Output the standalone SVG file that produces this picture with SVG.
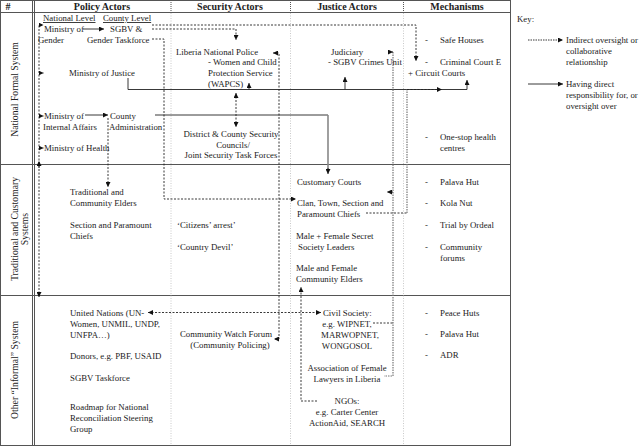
<svg xmlns="http://www.w3.org/2000/svg" width="640" height="447" viewBox="0 0 640 447">
<style>
text{font-family:"Liberation Serif","Times New Roman",serif;font-size:8.8px;fill:#222}
.h{font-weight:bold;font-size:10px;text-anchor:middle}
.m{text-anchor:middle}
.rl{font-size:9.7px;text-anchor:middle}
.u{text-decoration:underline}
.grid{stroke:#555;stroke-width:1;fill:none}
.hd{stroke:#555;stroke-width:1;stroke-dasharray:1,1;fill:none}
.dot{stroke:#bbb;stroke-width:0.8;stroke-dasharray:1,1.5;fill:none}
.s{stroke:#222;stroke-width:0.9;fill:none}
.d{stroke:#222;stroke-width:0.9;stroke-dasharray:2,1.5;fill:none}
.g{stroke:#777;stroke-width:1.2;stroke-dasharray:1.5,1;fill:none}
.sg{stroke:#888;stroke-width:1.6;fill:none}
.a{marker-end:url(#ah)}
.b{marker-start:url(#ah);marker-end:url(#ah)}
</style>
<defs>
<marker id="ah" viewBox="0 0 10 10" refX="10" refY="5" markerWidth="5" markerHeight="5" markerUnits="userSpaceOnUse" orient="auto-start-reverse"><path d="M0,0L10,5L0,10z" fill="#111"/></marker>
</defs>
<rect width="640" height="447" fill="#fff"/>

<g id="table">
<rect class="grid" x="0.5" y="0.5" width="510" height="445"/>
<line class="grid" x1="0" y1="12.5" x2="510.5" y2="12.5"/>
<line class="grid" x1="0" y1="164.5" x2="510.5" y2="164.5"/>
<line class="grid" x1="0" y1="295.5" x2="510.5" y2="295.5"/>
<line class="grid" x1="32.5" y1="0" x2="32.5" y2="445.5"/>
<line class="grid" x1="34.5" y1="0" x2="34.5" y2="445.5"/>
<line class="hd" x1="171" y1="0" x2="171" y2="12"/>
<line class="hd" x1="290.5" y1="0" x2="290.5" y2="12"/>
<line class="hd" x1="403.5" y1="0" x2="403.5" y2="12"/>
<line class="dot" x1="171" y1="13" x2="171" y2="445"/>
<line class="dot" x1="290.5" y1="13" x2="290.5" y2="445"/>
<line class="dot" x1="403.5" y1="13" x2="403.5" y2="445"/>
<text class="h" x="8" y="10" fill="#444">#</text>
<text class="h" x="102" y="10">Policy Actors</text>
<text class="h" x="230" y="10">Security Actors</text>
<text class="h" x="347" y="10">Justice Actors</text>
<text class="h" x="457" y="10">Mechanisms</text>
<text class="rl" transform="translate(17.5,89.5) rotate(-90)">National Formal System</text>
<text class="rl" transform="translate(17.5,229) rotate(-90)">Traditional and Customary</text>
<text class="rl" transform="translate(28,229) rotate(-90)">Systems</text>
<text class="rl" transform="translate(17.5,370) rotate(-90)">Other “Informal” System</text>
<text class="u" x="43" y="21">National Level</text>
<text class="u" x="103" y="21">County Level</text>
</g>

<g id="connectors">
<path class="d b" d="M39,297 V25 H43.5"/>
<path class="d a" d="M39,73 H43.5"/>
<path class="d a" d="M39,116 H43.5"/>
<path class="d a" d="M39,148 H43.5"/>
<path class="d a" d="M39,168 V161"/>
<path class="s a" d="M83,29 H104"/>
<path class="d a" d="M152,25 H416 V61"/>
<path class="d a" d="M152,29 H236 V40"/>
<path class="d a" d="M152,39 H164 V199 H296"/>
<path class="s a" d="M128,78 V89.5 H467 V80"/>
<path class="s a" d="M249,89.5 V83"/>
<path class="s a" d="M345,89.5 V77"/>
<path class="s a" d="M85,115 H108"/>
<path class="d a" d="M108,118 V187"/>
<path class="s" d="M155,115 H328"/>
<path class="sg" d="M328,115 V170"/>
<path class="s a" d="M328,168 V174"/>
<path class="d b" d="M236,93 V127"/>
<path class="d b" d="M273,53 H279 V339 H274"/>
<path class="g" d="M393,52 V376 H384"/>
<path class="d a" d="M388,52 H393"/>
<path class="d a" d="M393,192 H387"/>
<path class="d" d="M373,323 H393"/>
<path class="d" d="M366,213 H407"/>
<path class="g" d="M407,213 V89.5"/>
<path class="d a" d="M407,89.5 H442"/>
<path class="d b" d="M148,312.5 H321"/>
<path class="d a" d="M317,401 H301 V287"/>
</g>

<g id="n-ministry-gender"><text x="44" y="32">Ministry of</text><text x="38" y="43">Gender</text></g>
<g id="n-sgbv-taskforce"><text x="110" y="32">SGBV &amp;</text><text x="87" y="43">Gender Taskforce</text></g>
<g id="n-ministry-justice"><text x="69" y="76">Ministry of Justice</text></g>
<g id="n-ministry-internal"><text x="44" y="119">Ministry of</text><text x="43" y="130">Internal Affairs</text></g>
<g id="n-county-admin"><text x="110" y="119">County</text><text x="109" y="130">Administration</text></g>
<g id="n-ministry-health"><text x="44" y="151">Ministry of Health</text></g>
<g id="n-trad-elders"><text x="70" y="195">Traditional and</text><text x="70" y="206">Community Elders</text></g>
<g id="n-section-chiefs"><text x="70" y="228">Section and Paramount</text><text x="70" y="239">Chiefs</text></g>
<g id="n-un"><text x="70" y="316">United Nations (UN-</text><text x="70" y="327">Women, UNMIL, UNDP,</text><text x="70" y="338">UNFPA…)</text></g>
<g id="n-donors"><text x="70" y="359">Donors, e.g. PBF, USAID</text></g>
<g id="n-sgbv-tf2"><text x="70" y="381">SGBV Taskforce</text></g>
<g id="n-roadmap"><text x="70" y="410">Roadmap for National</text><text x="70" y="421">Reconciliation Steering</text><text x="70" y="432">Group</text></g>

<g id="n-lnp"><text x="176" y="55">Liberia National Police</text><text x="208" y="65">- Women and Child</text><text x="208" y="76">Protection Service</text><text x="208" y="87">(WAPCS)</text></g>
<g id="n-district"><text class="m" x="231" y="137">District &amp; County Security</text><text class="m" x="233" y="148">Councils/</text><text class="m" x="231" y="158">Joint Security Task Forces</text></g>
<g id="n-citizens"><text x="177" y="228">‘Citizens’ arrest’</text></g>
<g id="n-devil"><text x="177" y="250">‘Country Devil’</text></g>
<g id="n-cwf"><text class="m" x="226" y="337">Community Watch Forum</text><text class="m" x="230" y="348">(Community Policing)</text></g>

<g id="n-judiciary"><text x="331" y="55">Judiciary</text><text x="328" y="65">- SGBV Crimes Unit</text></g>
<g id="n-customary"><text x="297" y="185">Customary Courts</text></g>
<g id="n-clan"><text x="297" y="206">Clan, Town, Section and</text><text x="297" y="217">Paramount Chiefs</text></g>
<g id="n-secret"><text x="296" y="239">Male + Female Secret</text><text x="298" y="250">Society Leaders</text></g>
<g id="n-elders"><text x="296" y="271">Male and Female</text><text x="296" y="282">Community Elders</text></g>
<g id="n-civil"><text x="323" y="316">Civil Society:</text><text class="m" x="347" y="327">e.g. WIPNET,</text><text class="m" x="350" y="338">MARWOPNET,</text><text class="m" x="347" y="349">WONGOSOL</text></g>
<g id="n-afll"><text class="m" x="347" y="371">Association of Female</text><text class="m" x="347" y="382">Lawyers in Liberia</text></g>
<g id="n-ngos"><text class="m" x="347" y="404">NGOs:</text><text class="m" x="347" y="415">e.g. Carter Center</text><text class="m" x="347" y="426">ActionAid, SEARCH</text></g>

<g id="n-mech-formal"><text x="425" y="43">-</text><text x="440" y="43">Safe Houses</text><text x="425" y="65">-</text><text x="440" y="65">Criminal Court E</text><text x="408" y="76">+ Circuit Courts</text><text x="425" y="140">-</text><text x="440" y="140">One-stop health</text><text x="440" y="151">centres</text></g>
<g id="n-mech-trad"><text x="425" y="185">-</text><text x="440" y="185">Palava Hut</text><text x="425" y="206">-</text><text x="440" y="206">Kola Nut</text><text x="425" y="228">-</text><text x="440" y="228">Trial by Ordeal</text><text x="425" y="250">-</text><text x="440" y="250">Community</text><text x="440" y="261">forums</text></g>
<g id="n-mech-other"><text x="425" y="316">-</text><text x="440" y="316">Peace Huts</text><text x="425" y="337">-</text><text x="440" y="337">Palava Hut</text><text x="425" y="358">-</text><text x="440" y="358">ADR</text></g>

<g id="key">
<text x="517" y="22">Key:</text>
<path class="d a" d="M528,40 H563" style="stroke-dasharray:1.5,1"/>
<text x="566" y="43">Indirect oversight or</text><text x="566" y="54">collaborative</text><text x="566" y="65">relationship</text>
<path class="s a" d="M528,84 H563"/>
<text x="566" y="87">Having direct</text><text x="566" y="98">responsibility for, or</text><text x="566" y="109">oversight over</text>
</g>
</svg>
